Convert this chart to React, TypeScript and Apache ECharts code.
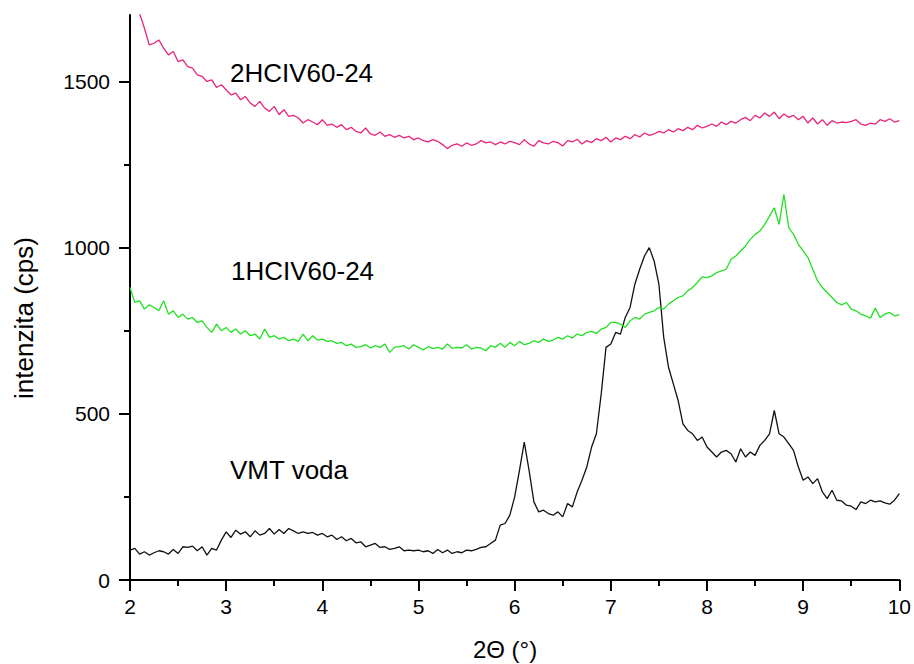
import React, { useEffect, useRef } from "react";
import * as echarts from "echarts";

// Sampling grid of the diffractograms: 2θ from 2° to 10°, step 0.05°
const X_START = 2;
const X_STEP = 0.05;

// VMT voda (black)
const vmtVoda = [
  90, 95, 78, 85, 75, 82, 88, 85, 78, 92, 80, 100, 98, 102, 88, 100, 75, 95, 90, 120,
  145, 128, 150, 138, 145, 130, 148, 135, 140, 155, 138, 152, 140, 155, 148, 140, 145, 140, 143, 135,
  140, 130, 135, 122, 130, 118, 125, 112, 115, 100, 105, 110, 98, 100, 92, 95, 100, 88, 90, 88,
  90, 85, 88, 80, 92, 82, 90, 80, 85, 82, 90, 88, 92, 98, 100, 110, 120, 165, 170, 195,
  250, 330, 415, 330, 235, 205, 210, 200, 195, 205, 190, 230, 220, 265, 300, 340, 400, 440, 560, 700,
  710, 745, 740, 790, 820, 890, 935, 975, 1000, 960, 890, 730, 640, 590, 540, 470, 450, 440, 420, 430,
  400, 385, 370, 385, 390, 380, 355, 395, 370, 385, 375, 405, 420, 440, 510, 440, 430, 410, 390, 340,
  300, 310, 290, 305, 265, 245, 270, 240, 238, 225, 222, 212, 235, 230, 240, 235, 238, 232, 228, 240,
  260,
];

// 1HCIV60-24 (green)
const hciv1 = [
  880, 835, 840, 815, 828, 820, 810, 840, 800, 810, 790, 800, 785, 790, 775, 780, 760, 745, 770, 750,
  760, 745, 755, 740, 750, 735, 740, 725, 755, 730, 735, 725, 730, 720, 725, 718, 740, 720, 735, 722,
  725, 718, 720, 712, 715, 705, 710, 700, 702, 708, 698, 705, 700, 710, 685, 700, 702, 705, 695, 708,
  700, 692, 702, 696, 700, 695, 710, 697, 700, 698, 708, 695, 700, 698, 690, 705, 700, 712, 700, 715,
  705, 718, 708, 712, 720, 715, 725, 718, 722, 730, 725, 735, 728, 740, 735, 745, 748, 742, 755, 760,
  775, 775, 770, 760, 780, 790, 785, 800, 805, 810, 820, 815, 830, 840, 850, 855, 870, 880, 895, 912,
  910, 915, 925, 930, 935, 965, 975, 990, 1005, 1025, 1040, 1050, 1070, 1095, 1120, 1070, 1160, 1060, 1040, 1010,
  990, 970, 935, 900, 880, 865, 850, 835, 828, 835, 815, 810, 800, 795, 788, 818, 790, 800, 805, 795,
  798,
];

// 2HCIV60-24 (magenta)
const hciv2 = [
  1800, 1750, 1705, 1660, 1610, 1615, 1625, 1600, 1580, 1590, 1560, 1565, 1545, 1540, 1520, 1515, 1500, 1505, 1482, 1490,
  1475, 1460, 1465, 1445, 1455, 1435, 1425, 1440, 1420, 1410, 1425, 1400, 1415, 1395, 1398, 1390, 1375, 1385, 1378, 1370,
  1385, 1368, 1372, 1362, 1370, 1355, 1362, 1350, 1345, 1360, 1342, 1338, 1348, 1335, 1340, 1332, 1338, 1330, 1335, 1325,
  1330, 1322, 1318, 1325, 1320, 1310, 1298, 1308, 1312, 1305, 1315, 1308, 1312, 1322, 1315, 1318, 1310, 1318, 1312, 1320,
  1316, 1310, 1325, 1312, 1305, 1322, 1315, 1312, 1320, 1316, 1306, 1322, 1318, 1326, 1312, 1322, 1316, 1328, 1322, 1332,
  1318, 1330, 1325, 1335, 1328, 1340, 1333, 1345, 1338, 1342, 1350, 1345, 1355, 1348, 1358, 1352, 1362, 1355, 1368, 1360,
  1365, 1372, 1365, 1378, 1370, 1380, 1375, 1385, 1392, 1382, 1398, 1390, 1405, 1395, 1408, 1388, 1402, 1392, 1398, 1385,
  1395, 1375, 1390, 1372, 1385, 1368, 1382, 1375, 1378, 1376, 1380, 1385, 1372, 1368, 1375, 1372, 1385, 1380, 1388, 1378,
  1382,
];

const yMajorTicks = [0, 500, 1000, 1500];
const yMinorTicks = [250, 750, 1250];
const seriesNames = ["VMT voda", "1HCIV60-24", "2HCIV60-24"];
const xTitle = "2Θ (°)";
const yTitle = "intenzita (cps)";

const FONT = "'Liberation Sans', Arial, sans-serif";

function toPairs(values: number[]) {
  return values.map((v, i) => [+(X_START + i * X_STEP).toFixed(2), v]);
}

export default function App() {
  const ref = useRef<HTMLDivElement>(null);

  useEffect(() => {
    if (!ref.current) return;
    const chart = echarts.init(ref.current, undefined, { renderer: "svg" });
    const axisColor = "#000";
    const plain = (v: number) => String(v);
    chart.setOption({
      animation: false,
      backgroundColor: "#fff",
      grid: { left: 130, right: 12, top: 15, bottom: 84 },
      xAxis: {
        type: "value",
        min: 2,
        max: 10,
        interval: 1,
        axisLine: { show: true, onZero: false, lineStyle: { color: axisColor, width: 2 } },
        axisTick: { show: true, length: 11, lineStyle: { color: axisColor, width: 2 } },
        minorTick: { show: true, splitNumber: 2, length: 6, lineStyle: { color: axisColor, width: 2 } },
        axisLabel: { color: "#000", fontSize: 21, fontFamily: FONT, margin: 16, formatter: plain },
        splitLine: { show: false },
        minorSplitLine: { show: false },
      },
      yAxis: [
        {
          type: "value",
          min: 0,
          max: 1700,
          interval: 500,
          axisLine: { show: true, onZero: false, lineStyle: { color: axisColor, width: 2 } },
          axisTick: { show: true, length: 11, customValues: yMajorTicks, lineStyle: { color: axisColor, width: 2 } },
          axisLabel: { color: "#000", fontSize: 21, fontFamily: FONT, margin: 20, customValues: yMajorTicks, formatter: plain },
          splitLine: { show: false },
        },
        {
          type: "value",
          min: 0,
          max: 1700,
          position: "left",
          axisLine: { show: false },
          axisTick: { show: true, length: 6, customValues: yMinorTicks, lineStyle: { color: axisColor, width: 2 } },
          axisLabel: { show: false },
          splitLine: { show: false },
        },
      ],
      series: [
        {
          name: seriesNames[0],
          type: "line",
          data: toPairs(vmtVoda),
          showSymbol: false,
          symbol: "none",
          lineStyle: { color: "#111", width: 1.3 },
          clip: true,
        },
        {
          name: seriesNames[1],
          type: "line",
          data: toPairs(hciv1),
          showSymbol: false,
          symbol: "none",
          lineStyle: { color: "#22e022", width: 1.3 },
          clip: true,
        },
        {
          name: seriesNames[2],
          type: "line",
          data: toPairs(hciv2),
          showSymbol: false,
          symbol: "none",
          lineStyle: { color: "#e8247e", width: 1.3 },
          clip: true,
        },
      ],
      graphic: [
        {
          type: "text",
          left: 230,
          top: 60,
          style: { text: seriesNames[2], fontSize: 26, fontFamily: FONT, fill: "#000" },
        },
        {
          type: "text",
          left: 231,
          top: 258,
          style: { text: seriesNames[1], fontSize: 26, fontFamily: FONT, fill: "#000" },
        },
        {
          type: "text",
          left: 230,
          top: 457,
          style: { text: seriesNames[0], fontSize: 26, fontFamily: FONT, fill: "#000" },
        },
        {
          type: "text",
          x: 505,
          y: 649,
          style: { text: xTitle, fontSize: 24, fontFamily: FONT, fill: "#000", textAlign: "center", textVerticalAlign: "middle" },
        },
        {
          type: "text",
          x: 24,
          y: 318,
          rotation: Math.PI / 2,
          style: { text: yTitle, fontSize: 26, fontFamily: FONT, fill: "#000", textAlign: "center", textVerticalAlign: "middle" },
        },
      ],
    });
    return () => chart.dispose();
  }, []);

  return (
    <div
      ref={ref}
      style={{ position: "fixed", left: 0, top: 0, width: 914, height: 664, background: "#fff" }}
    />
  );
}
